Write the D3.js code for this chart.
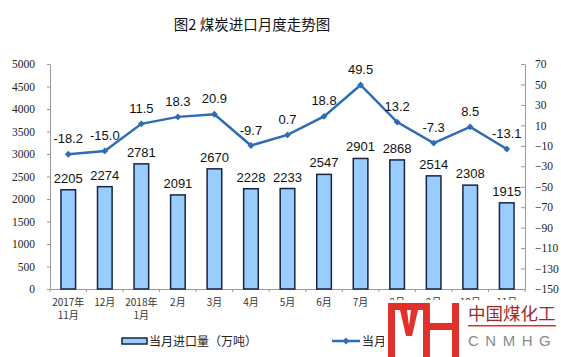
<!DOCTYPE html>
<html>
<head>
<meta charset="utf-8">
<script src="https://cdn.jsdelivr.net/npm/d3@7"></script>
<style>
  body { margin: 0; background: #fff; }
  svg { display: block; }
  .ax path, .ax line { stroke: #999; }
</style>
</head>
<body>
<svg width="561" height="357"></svg>
<script>
// months on the x axis (two lines where needed)
var months = [["2017年", "11月"], ["12月"], ["2018年", "1月"], ["2月"], ["3月"], ["4月"], ["5月"], ["6月"], ["7月"], ["8月"], ["9月"], ["10月"], ["11月"]]
// monthly imports (10k tonnes)
var imports = [2205, 2274, 2781, 2091, 2670, 2228, 2233, 2547, 2901, 2868, 2514, 2308, 1915]
// year-on-year growth (%)
var growth = [-18.2, -15.0, 11.5, 18.3, 20.9, -9.7, 0.7, 18.8, 49.5, 13.2, -7.3, 8.5, -13.1]
var leftTicks = d3.range(0, 5001, 500)
var rightTicks = d3.range(-150, 71, 20)

var svg = d3.select("svg"),
    pl = 50, pr = 525, pt = 64, pb = 289

var x = d3.scaleBand().domain(d3.range(months.length)).range([pl, pr]).paddingInner(0.6).paddingOuter(0.3)
var xs = d3.scaleBand().domain(d3.range(months.length)).range([pl, pr])
var y = d3.scaleLinear().domain([0, 5000]).range([pb, pt])
var y2 = d3.scaleLinear().domain([-150, 70]).range([pb, pt])

// title
svg.append("text").attr("x", 252).attr("y", 30).attr("text-anchor", "middle")
  .style("font-family", "Noto Sans CJK SC").style("font-size", "14.5px").style("fill", "#111")
  .text("图2 煤炭进口月度走势图")

// axes
var serif = "Liberation Serif, DejaVu Serif, serif"
svg.append("g").attr("class", "ax").attr("transform", "translate(" + pl + ",0)")
  .call(d3.axisLeft(y).tickValues(leftTicks).tickFormat(d3.format("d")).tickSize(3).tickSizeOuter(0).tickPadding(12))
  .attr("font-family", serif).attr("font-size", 11.5)
svg.append("g").attr("class", "ax").attr("transform", "translate(" + pr + ",0)")
  .call(d3.axisRight(y2).tickValues(rightTicks).tickSize(-4).tickSizeOuter(0).tickPadding(10))
  .attr("font-family", serif).attr("font-size", 11.5)
svg.selectAll(".ax text").style("fill", "#222")
svg.append("g").attr("class", "ax").attr("transform", "translate(0," + pb + ")")
  .call(d3.axisBottom(xs).tickValues([]).tickSizeOuter(0))
svg.append("g").selectAll("line").data(d3.range(months.length + 1)).enter().append("line")
  .attr("x1", function(i) { return pl + i * xs.step() }).attr("x2", function(i) { return pl + i * xs.step() })
  .attr("y1", pb).attr("y2", pb + 3).style("stroke", "#999")

// x labels
var xl = svg.append("g").selectAll("text").data(months).enter().append("text")
  .attr("text-anchor", "middle")
  .style("font-family", "Noto Sans CJK SC").style("font-size", "10px").style("fill", "#333")
xl.selectAll("tspan").data(function(d, i) { return d.map(function(s) { return {s: s, i: i} }) })
  .enter().append("tspan")
  .attr("x", function(d) { return xs(d.i) + xs.bandwidth() / 2 })
  .attr("y", function(d, j) { return 306 + j * 13 })
  .text(function(d) { return d.s })

// bars
svg.append("g").selectAll("rect").data(imports).enter().append("rect")
  .attr("x", function(d, i) { return x(i) })
  .attr("y", function(d) { return y(d) })
  .attr("width", x.bandwidth())
  .attr("height", function(d) { return pb - y(d) })
  .style("fill", "#99ccff").style("stroke", "#17253f").style("stroke-width", 1.5)

svg.append("g").selectAll("text").data(imports).enter().append("text")
  .attr("x", function(d, i) { return x(i) + x.bandwidth() / 2 })
  .attr("y", function(d) { return y(d) - 7 })
  .attr("text-anchor", "middle")
  .style("font-family", "Liberation Sans, Arial").style("font-size", "13px").style("fill", "#111")
  .text(function(d) { return d })

// growth line
var cx = function(d, i) { return xs(i) + xs.bandwidth() / 2 }
svg.append("path").datum(growth)
  .attr("d", d3.line().x(cx).y(function(d) { return y2(d) }))
  .style("fill", "none").style("stroke", "#2e6db5").style("stroke-width", 2.5)
svg.append("g").selectAll("path").data(growth).enter().append("path")
  .attr("d", d3.symbol(d3.symbolDiamond2, 30))
  .attr("transform", function(d, i) { return "translate(" + cx(d, i) + "," + y2(d) + ")" })
  .style("fill", "#2e6db5")
svg.append("g").selectAll("text").data(growth).enter().append("text")
  .attr("x", cx)
  .attr("y", function(d) { return y2(d) - 11 })
  .attr("text-anchor", "middle")
  .style("font-family", "Liberation Sans, Arial").style("font-size", "13px").style("fill", "#111")
  .text(function(d) { return d.toFixed(1) })

// legend
var lg = svg.append("g")
lg.append("rect").attr("x", 122).attr("y", 338).attr("width", 25).attr("height", 6)
  .style("fill", "#99ccff").style("stroke", "#17253f").style("stroke-width", 1.5)
lg.append("text").attr("x", 149).attr("y", 346).style("font-family", "Noto Sans CJK SC").style("font-size", "12px").style("fill", "#222")
  .text("当月进口量（万吨）")
lg.append("line").attr("x1", 332).attr("x2", 360).attr("y1", 341).attr("y2", 341).style("stroke", "#2e6db5").style("stroke-width", 2.5)
lg.append("path").attr("d", d3.symbol(d3.symbolDiamond2, 30)).attr("transform", "translate(346,341)").style("fill", "#2e6db5")
lg.append("text").attr("x", 362).attr("y", 346).style("font-family", "Noto Sans CJK SC").style("font-size", "12px").style("fill", "#222")
  .text("当月增速（%）")

// watermark
var wm = svg.append("g")
wm.append("rect").attr("x", 384).attr("y", 300).attr("width", 177).attr("height", 57).style("fill", "#fff")
var red = "#e0312b"
wm.append("rect").attr("x", 388).attr("y", 303).attr("width", 7).attr("height", 54).style("fill", red)
wm.append("rect").attr("x", 388).attr("y", 303).attr("width", 42).attr("height", 7).style("fill", red)
wm.append("rect").attr("x", 423).attr("y", 303).attr("width", 7).attr("height", 54).style("fill", red)
wm.append("polygon").attr("points", "400,310 407,310 409,326 411,310 418,310 412,336 406,336").style("fill", red)
wm.append("rect").attr("x", 430).attr("y", 323).attr("width", 24).attr("height", 7).style("fill", red)
wm.append("rect").attr("x", 452).attr("y", 303).attr("width", 7).attr("height", 54).style("fill", red)
wm.append("text").attr("x", 468).attr("y", 320).style("font-family", "Noto Sans CJK SC").style("font-size", "17.5px").style("fill", "#9b2a2a")
  .text("中国煤化工")
wm.append("rect").attr("x", 468).attr("y", 325).attr("width", 88).attr("height", 1.5).style("fill", red)
wm.append("text").attr("x", 468).attr("y", 346).style("font-family", "Liberation Sans, Arial").style("font-size", "15px").style("letter-spacing", "6.5px").style("fill", "#8a8a8a")
  .text("CNMHG")
</script>
</body>
</html>
